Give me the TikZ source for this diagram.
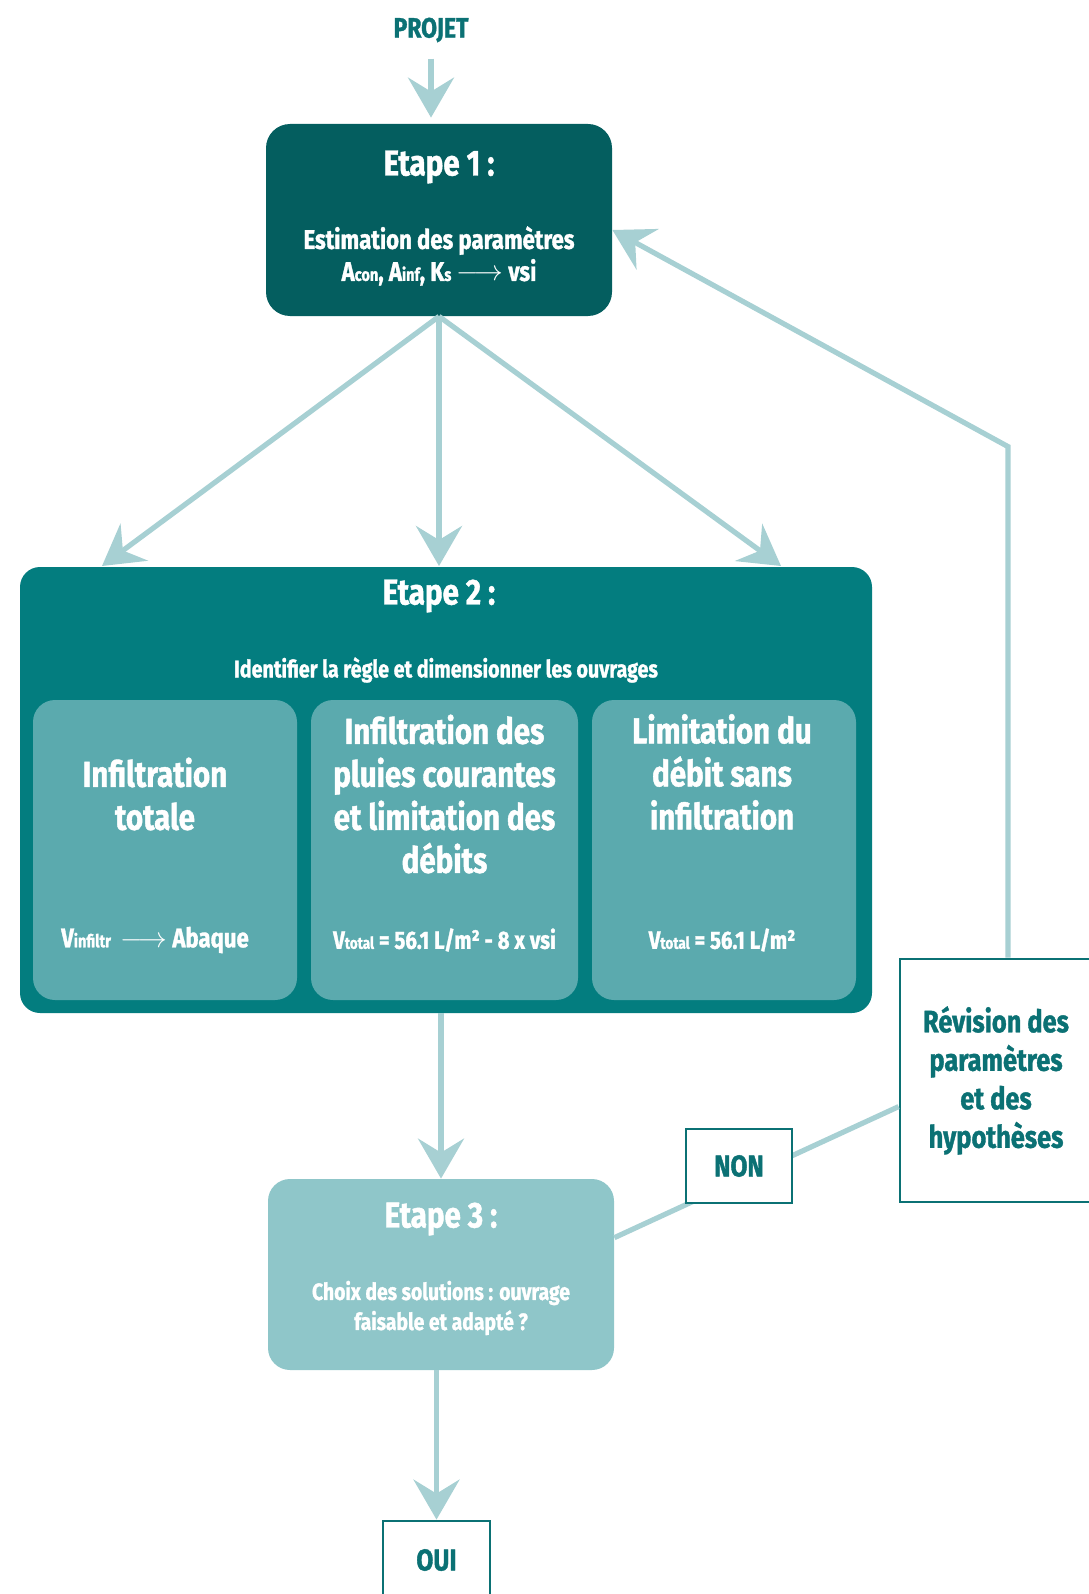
\documentclass[tikz,border=0pt]{standalone}
\usepackage{fontspec}
\setmainfont{Fira Sans}[FakeStretch=0.82, BoldFeatures={FakeBold=1.2}]
\usetikzlibrary{arrows.meta, positioning, calc}
\definecolor{etapeDark}{HTML}{045E5F}
\definecolor{etapeMid}{HTML}{037D7F}
\definecolor{etapeSub}{HTML}{5BAAAE}
\definecolor{etapePale}{HTML}{8FC6C9}
\definecolor{flowLine}{HTML}{A7D0D3}
\definecolor{inkTeal}{HTML}{0B7174}
\newcommand{\indice}[1]{\scalebox{0.66}{#1}}

\begin{document}
\begin{tikzpicture}[
        x=0.5pt,
        y=-0.5pt,
        >={Stealth[length=20pt, width=23pt, inset=7pt]},
        font=\bfseries,
        stepbox/.style={rectangle, rounded corners=12pt, inner sep=0pt,
                        minimum width=173pt, minimum height=96pt},
        subbox/.style={rectangle, rounded corners=11pt, fill=etapeSub, inner sep=0pt,
                       minimum width=132pt, minimum height=150pt},
        steptitle/.style={text=white, inner sep=0pt, font=\bfseries\fontsize{18}{20}\selectfont},
        steptext/.style={text=white, inner sep=0pt, align=center},
        subtitle/.style={text=white, inner sep=0pt, align=center,
                         font=\bfseries\fontsize{18}{21.5}\selectfont},
        formula/.style={text=white, inner sep=0pt, font=\bfseries\fontsize{12.5}{14}\selectfont},
        answer/.style={rectangle, draw=inkTeal, line width=1.4pt, fill=white, text=inkTeal,
                       inner sep=0pt, font=\bfseries\fontsize{15}{17}\selectfont},
        flow/.style={->, draw=flowLine, line width=2.6pt},
        joinline/.style={draw=flowLine, line width=2.6pt}
    ]
    \useasboundingbox (0,0) rectangle (1088,1594);

    % Main steps
    \node[text=inkTeal, inner sep=0pt, font=\bfseries\fontsize{14}{16}\selectfont] (projet) at (431,30) {PROJET};
    \node[stepbox, fill=etapeDark] (etape1) at (439,220) {};
    \node[stepbox, fill=etapeMid, rounded corners=10pt, minimum width=426pt, minimum height=223pt] (etape2) at (446,790) {};
    \node[stepbox, fill=etapePale, rounded corners=11pt, minimum height=95.5pt] (etape3) at (441,1274.5) {};

    % Texts of the steps
    \node[steptitle] (e1title) at (439,167) {Etape 1 :};
    \node[steptext, font=\bfseries\fontsize{13.5}{16}\selectfont] (e1text) at (439,256)
        {Estimation des paramètres\\ A\indice{con}, A\indice{inf}, K\indice{s} $\longrightarrow$ vsi};
    \node[steptitle] (e2title) at (439,596) {Etape 2 :};
    \node[steptext, font=\bfseries\fontsize{12}{14}\selectfont] (e2text) at (446,670)
        {Identifier la règle et dimensionner les ouvrages};
    \node[steptitle] (e3title) at (441,1219) {Etape 3 :};
    \node[steptext, font=\bfseries\fontsize{11.8}{15}\selectfont] (e3text) at (441,1308)
        {Choix des solutions : ouvrage\\ faisable et adapté ?};

    % The three rules inside step 2
    \node[subbox] (regle1) at (165,850) {};
    \node[subbox, minimum width=133.5pt] (regle2) at (444.5,850) {};
    \node[subbox] (regle3) at (724,850) {};
    \node[subtitle] (r1title) at (155,794) {Infiltration\\ totale};
    \node[subtitle] (r2title) at (444.5,794) {Infiltration des\\ pluies courantes\\ et limitation des\\ débits};
    \node[subtitle] (r3title) at (722,772) {Limitation du\\ débit sans\\ infiltration};
    \node[formula, font=\bfseries\fontsize{13.5}{16}\selectfont] (r1calc) at (155,940)
        {V\indice{infiltr} \,$\longrightarrow$ Abaque};
    \node[formula] (r2calc) at (444.5,940) {V\indice{total} = 56.1 L/m² - 8 x vsi};
    \node[formula] (r3calc) at (722,940) {V\indice{total} = 56.1 L/m²};

    % Revision loop
    \node[answer, minimum width=96pt, minimum height=121.5pt, align=center,
          font=\bfseries\fontsize{15.5}{19.25}\selectfont] (revision) at (996,1080.5)
        {Révision des\\ paramètres\\ et des\\ hypothèses};
    \draw[joinline] (etape3.12) -- (revision.195);
    \node[answer, minimum width=53pt, minimum height=37pt] (non) at (739,1166) {NON};
    \node[answer, minimum width=53.5pt, minimum height=39pt] (oui) at (436.5,1560) {OUI};

    % Arrows
    \coordinate (in1) at (102,566);
    \coordinate (in2) at (439,566);
    \coordinate (in3) at (781,566);
    \draw[flow, shorten <=8pt, shorten >=3pt] (projet.south) -- (projet.south |- etape1.north);
    \draw[flow] (etape1.south) -- (in1);
    \draw[flow] (etape1.south) -- (in2);
    \draw[flow] (etape1.south) -- (in3);
    \draw[flow] (etape2.south -| etape3.north) -- (etape3.north);
    \draw[flow] (etape3.south -| oui.north) -- (oui.north);
    \draw[flow] ([xshift=6pt]revision.north) -- ++(0,-511) -- ([yshift=-5pt]etape1.east);

    \end{tikzpicture}
\end{document}
